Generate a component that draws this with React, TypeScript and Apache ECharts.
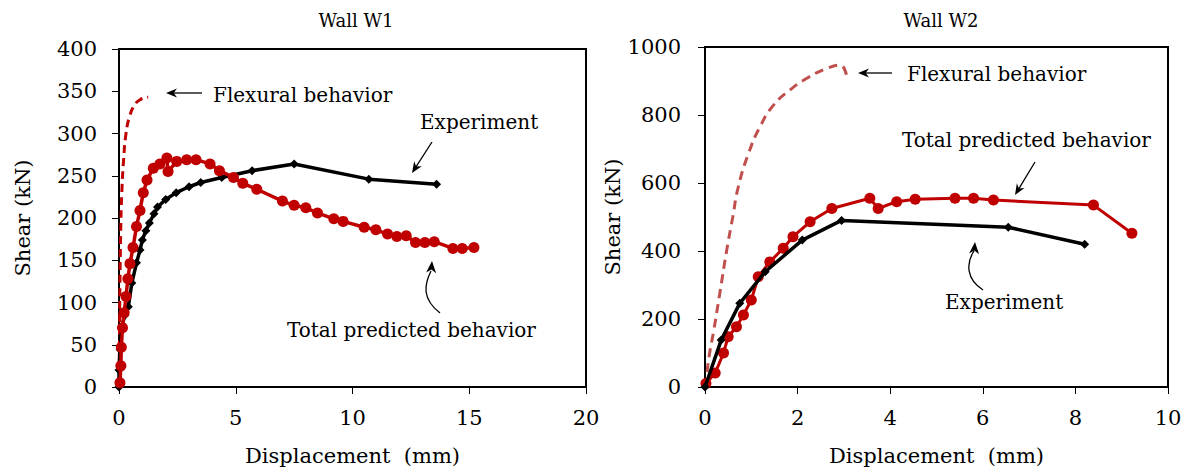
import React, { useEffect, useRef } from "react";
import * as echarts from "echarts";

// ---------- Data ----------
const titles = ["Wall W1", "Wall W2"];
const xAxisName = "Displacement  (mm)";
const yAxisName = "Shear (kN)";

// Wall W1
const w1FlexX = [0, 0.02, 0.04, 0.07, 0.12, 0.2, 0.3, 0.45, 0.65, 0.9, 1.25];
const w1FlexY = [0, 60, 120, 180, 230, 270, 300, 320, 333, 340, 343];

const w1ExpX = [0, 0, 0.05, 0.12, 0.25, 0.4, 0.55, 0.75, 0.9, 1.0, 1.15, 1.3, 1.5, 1.65, 2.0, 2.45, 3.0, 3.5, 4.4, 5.7, 7.5, 10.7, 13.6];
const w1ExpY = [0, 20, 44, 71, 85, 95, 123, 147, 162, 174, 185, 194, 205, 213, 222, 230, 237, 242, 248, 256, 264, 246, 240];

const w1PredX = [0.04, 0.08, 0.1, 0.15, 0.22, 0.3, 0.38, 0.47, 0.6, 0.75, 0.9, 1.04, 1.2, 1.47, 1.75, 2.05, 2.1, 2.47, 2.9, 3.3, 3.9, 4.3, 4.9, 5.3, 5.9, 7.0, 7.5, 8.0, 8.5, 9.2, 9.6, 10.5, 11.0, 11.5, 11.9, 12.3, 12.7, 13.1, 13.5, 14.3, 14.7, 15.2];
const w1PredY = [5, 25, 47, 70, 88, 107, 128, 146, 165, 190, 209, 230, 245, 259, 264, 271, 255, 267, 269, 269, 264, 256, 248, 241, 234, 220, 215, 212, 206, 199, 196, 189, 186, 181, 178, 179, 171, 171, 172, 164, 164, 165];

// Wall W2
const w2FlexX = [0, 0.04, 0.1, 0.18, 0.32, 0.47, 0.6, 0.72, 0.94, 1.19, 1.48, 1.84, 2.2, 2.63, 2.92, 3.06];
const w2FlexY = [0, 41, 100, 159, 276, 403, 500, 589, 687, 766, 829, 874, 908, 937, 947, 913];

const w2ExpX = [0, 0.35, 0.75, 1.3, 2.1, 2.95, 6.55, 8.2];
const w2ExpY = [0, 138, 246, 339, 432, 490, 470, 420];

const w2PredX = [0.02, 0.22, 0.4, 0.5, 0.68, 0.83, 1.0, 1.15, 1.4, 1.69, 1.9, 2.27, 2.74, 3.56, 3.74, 4.14, 4.54, 5.4, 5.8, 6.23, 8.39, 9.22];
const w2PredY = [10, 41, 100, 148, 177, 212, 256, 324, 368, 408, 442, 486, 525, 555, 525, 545, 552, 555, 555, 550, 535, 452];

const annotations = {
  flexural: "Flexural behavior",
  experiment: "Experiment",
  predicted: "Total predicted behavior",
};

// ---------- Helpers ----------
const zip = (xs: number[], ys: number[]) => xs.map((x, i) => [x, ys[i]]);
const FONT = "DejaVu Serif";

function arrowHead(fromX: number, fromY: number, tipX: number, tipY: number, len = 11, half = 4.5) {
  const dx = tipX - fromX;
  const dy = tipY - fromY;
  const L = Math.sqrt(dx * dx + dy * dy) || 1;
  const ux = dx / L;
  const uy = dy / L;
  const bx = tipX - ux * len;
  const by = tipY - uy * len;
  const nx = tipX - ux * (len * 0.7);
  const ny = tipY - uy * (len * 0.7);
  return {
    type: "polygon",
    shape: {
      points: [
        [tipX, tipY],
        [bx - uy * half, by + ux * half],
        [nx, ny],
        [bx + uy * half, by - ux * half],
      ],
    },
    style: { fill: "#000" },
    silent: true,
  };
}

function straightArrow(x1: number, y1: number, x2: number, y2: number) {
  return [
    {
      type: "line",
      shape: { x1, y1, x2: x2 - (x2 - x1) * 0.15, y2: y2 - (y2 - y1) * 0.15 },
      style: { stroke: "#000", lineWidth: 1.3 },
      silent: true,
    },
    arrowHead(x1, y1, x2, y2),
  ];
}

function curlyArrow(sx: number, sy: number, c1x: number, c1y: number, c2x: number, c2y: number, ex: number, ey: number, tx: number, ty: number) {
  return [
    {
      type: "bezierCurve",
      shape: { x1: sx, y1: sy, cpx1: c1x, cpy1: c1y, cpx2: c2x, cpy2: c2y, x2: ex, y2: ey },
      style: { stroke: "#000", lineWidth: 1.3, fill: "none" },
      silent: true,
    },
    arrowHead(ex, ey + 4, tx, ty, 12, 5),
  ];
}

function label(text: string, x: number, y: number) {
  return {
    type: "text",
    x,
    y,
    style: {
      text,
      fill: "#000",
      fontFamily: FONT,
      fontSize: 20,
      align: "left",
      verticalAlign: "middle",
    },
    silent: true,
  };
}

const axisCommon = {
  axisLine: { show: true, lineStyle: { color: "#000", width: 1.5 } },
  axisTick: { show: true, inside: false, length: 7, lineStyle: { color: "#000", width: 1 } },
  splitLine: { show: false },
  axisLabel: { color: "#000", fontSize: 21, fontFamily: FONT },
  nameTextStyle: { color: "#000", fontSize: 21, fontFamily: FONT },
};

export default function App() {
  const ref = useRef<HTMLDivElement>(null);

  useEffect(() => {
    if (!ref.current) return;
    const chart = echarts.init(ref.current, undefined, { renderer: "svg" });

    const option: any = {
      animation: false,
      backgroundColor: "#fff",
      title: [
        {
          text: titles[0],
          left: 351,
          top: 6,
          textAlign: "center",
          textStyle: { color: "#000", fontSize: 18, fontWeight: "normal", fontFamily: FONT },
        },
        {
          text: titles[1],
          left: 936,
          top: 6,
          textAlign: "center",
          textStyle: { color: "#000", fontSize: 18, fontWeight: "normal", fontFamily: FONT },
        },
      ],
      grid: [
        { left: 119, top: 49, width: 467, height: 338, show: true, borderColor: "#000", borderWidth: 2, backgroundColor: "transparent" },
        { left: 705, top: 47, width: 463, height: 340, show: true, borderColor: "#000", borderWidth: 2, backgroundColor: "transparent" },
      ],
      xAxis: [
        {
          ...axisCommon,
          gridIndex: 0,
          type: "value",
          min: 0,
          max: 20,
          interval: 5,
          name: xAxisName,
          nameLocation: "middle",
          nameGap: 58,
          axisLabel: { ...axisCommon.axisLabel, margin: 20 },
        },
        {
          ...axisCommon,
          gridIndex: 1,
          type: "value",
          min: 0,
          max: 10,
          interval: 2,
          name: xAxisName,
          nameLocation: "middle",
          nameGap: 58,
          axisLabel: { ...axisCommon.axisLabel, margin: 20 },
        },
      ],
      yAxis: [
        {
          ...axisCommon,
          gridIndex: 0,
          type: "value",
          min: 0,
          max: 400,
          interval: 50,
          name: yAxisName,
          nameLocation: "middle",
          nameRotate: 90,
          nameGap: 86,
          axisLabel: { ...axisCommon.axisLabel, margin: 22 },
        },
        {
          ...axisCommon,
          gridIndex: 1,
          type: "value",
          min: 0,
          max: 1000,
          interval: 200,
          name: yAxisName,
          nameLocation: "middle",
          nameRotate: 90,
          nameGap: 80,
          axisLabel: { ...axisCommon.axisLabel, margin: 24, formatter: (v: number) => String(v) },
        },
      ],
      series: [
        {
          name: "W1 Flexural",
          type: "line",
          xAxisIndex: 0,
          yAxisIndex: 0,
          data: zip(w1FlexX, w1FlexY),
          showSymbol: false,
          symbol: "none",
          smooth: true,
          lineStyle: { color: "#c00000", width: 3, type: [8, 5] },
          z: 2,
        },
        {
          name: "W1 Experiment",
          type: "line",
          xAxisIndex: 0,
          yAxisIndex: 0,
          data: zip(w1ExpX, w1ExpY),
          symbol: "diamond",
          symbolSize: 9,
          itemStyle: { color: "#000" },
          lineStyle: { color: "#000", width: 3.5 },
          z: 3,
        },
        {
          name: "W1 Predicted",
          type: "line",
          xAxisIndex: 0,
          yAxisIndex: 0,
          data: zip(w1PredX, w1PredY),
          symbol: "circle",
          symbolSize: 11,
          itemStyle: { color: "#c00000" },
          lineStyle: { color: "#c00000", width: 3.5 },
          z: 4,
        },
        {
          name: "W2 Flexural",
          type: "line",
          xAxisIndex: 1,
          yAxisIndex: 1,
          data: zip(w2FlexX, w2FlexY),
          showSymbol: false,
          symbol: "none",
          smooth: true,
          lineStyle: { color: "#c0504d", width: 3, type: [9, 6] },
          z: 2,
        },
        {
          name: "W2 Predicted",
          type: "line",
          xAxisIndex: 1,
          yAxisIndex: 1,
          data: zip(w2PredX, w2PredY),
          symbol: "circle",
          symbolSize: 11,
          itemStyle: { color: "#c00000" },
          lineStyle: { color: "#c00000", width: 3 },
          z: 3,
        },
        {
          name: "W2 Experiment",
          type: "line",
          xAxisIndex: 1,
          yAxisIndex: 1,
          data: zip(w2ExpX, w2ExpY),
          symbol: "diamond",
          symbolSize: 9,
          itemStyle: { color: "#000" },
          lineStyle: { color: "#000", width: 3.5 },
          z: 4,
        },
      ],
      graphic: [
        // Wall W1 annotations
        label(annotations.flexural, 213, 95),
        ...straightArrow(202, 93, 166, 93),
        label(annotations.experiment, 420, 122),
        ...straightArrow(432, 142, 412, 173),
        label(annotations.predicted, 287, 330),
        ...curlyArrow(440, 313, 422, 299, 424, 285, 431, 271, 432, 261),
        // Wall W2 annotations
        label(annotations.flexural, 907, 74),
        ...straightArrow(892, 73, 858, 73),
        label(annotations.predicted, 902, 140),
        ...straightArrow(1035, 162, 1015, 195),
        label(annotations.experiment, 945, 302),
        ...curlyArrow(983, 290, 966, 279, 966, 263, 974, 251, 975, 242),
      ],
    };

    chart.setOption(option);
    return () => chart.dispose();
  }, []);

  return (
    <div
      ref={ref}
      style={{ position: "fixed", left: 0, top: 0, width: 1194, height: 474, background: "#fff" }}
    />
  );
}
